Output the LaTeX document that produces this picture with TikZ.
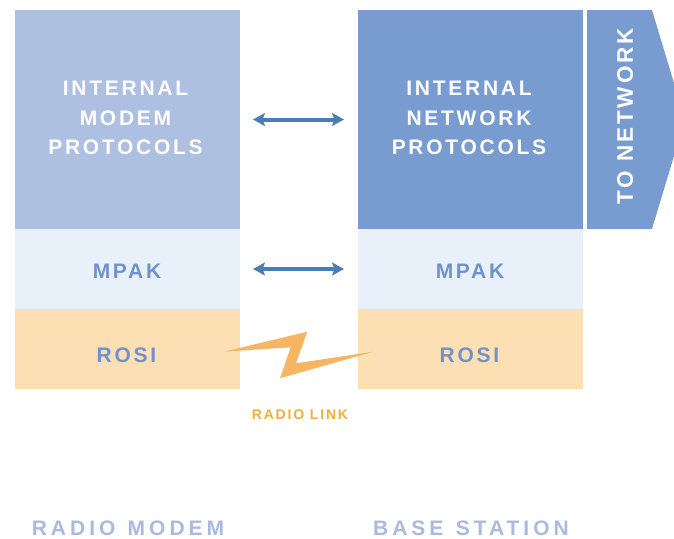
\documentclass[tikz,border=0pt]{standalone}
\usepackage{fontspec}
\newfontfamily\heavy[LetterSpace=13]{Liberation Sans}
\newfontfamily\heavycap[LetterSpace=19,WordSpace=1.25]{Liberation Sans}
\usetikzlibrary{arrows.meta}
\definecolor{lightblue}{HTML}{ADC0E2}
\definecolor{midblue}{HTML}{789CD0}
\definecolor{paleblue}{HTML}{E8F1FA}
\definecolor{paleorange}{HTML}{FCE0B3}
\definecolor{bandtext}{HTML}{7092CC}
\definecolor{arrowblue}{HTML}{4A7DB5}
\definecolor{bolt}{HTML}{F5B563}
\definecolor{linktext}{HTML}{F0AE3C}
\definecolor{captext}{HTML}{AAB9E0}
\tikzset{
  box/.style={inner sep=0pt, outer sep=0pt, minimum width=225pt},
  boxtext/.style={font=\heavy\bfseries\fontsize{21}{29.5}\selectfont, text=white, align=center, inner sep=0pt},
  bandlabel/.style={font=\heavy\bfseries\fontsize{21}{25}\selectfont, text=bandtext, inner sep=0pt},
  caption/.style={font=\heavycap\bfseries\fontsize{21}{25}\selectfont, text=captext, inner sep=0pt, anchor=base},
  biarrow/.style={draw=arrowblue, line width=4pt, {Stealth[length=12pt,width=13pt,inset=2.5pt]}-{Stealth[length=12pt,width=13pt,inset=2.5pt]}}
}
\begin{document}
\begin{tikzpicture}[x=1pt,y=-1pt]
\useasboundingbox (0,0) rectangle (674,538);
% left column
\node[box, fill=lightblue, minimum height=219pt] (imp) at (127.5,119.5) {};
\node[box, fill=paleblue, minimum height=80pt] (mpakL) at (127.5,269) {};
\node[box, fill=paleorange, minimum height=80pt] (rosiL) at (127.5,349) {};
% right column
\node[box, fill=midblue, minimum height=219pt] (inp) at (470.5,119.5) {};
\node[box, fill=paleblue, minimum height=80pt] (mpakR) at (470.5,269) {};
\node[box, fill=paleorange, minimum height=80pt] (rosiR) at (470.5,349) {};
% to network arrow shape
\begin{scope}
\clip (0,0) rectangle (674,538);
\fill[midblue] (587,10) -- (652,10) -- (685,119.5) -- (652,229) -- (587,229) -- cycle;
\end{scope}
\node[font=\heavy\bfseries\fontsize{22.5}{26}\selectfont, text=white, rotate=90, inner sep=0pt] (tonet) at (625,116.5) {TO NETWORK};
% texts
\node[boxtext] (impt) at (125.5,118.3) {INTERNAL\\MODEM\\PROTOCOLS};
\node[boxtext] (inpt) at (469,118.3) {INTERNAL\\NETWORK\\PROTOCOLS};
\node[bandlabel] (mpakLt) at (127,271.2) {MPAK};
\node[bandlabel] (mpakRt) at (470,271.2) {MPAK};
\node[bandlabel] (rosiLt) at (126.5,355.5) {ROSI};
\node[bandlabel] (rosiRt) at (469.5,355.5) {ROSI};
% arrows
\draw[biarrow] ([xshift=13pt]imp.east) -- ([xshift=-14pt]inp.west);
\draw[biarrow] ([xshift=13pt]mpakL.east) -- ([xshift=-14pt]mpakR.west);
% radio link bolt
\fill[bolt] (224,351.7) -- (307.3,331.7) -- (296,363.3) -- (373.3,351.7) -- (280,378.3) -- (290.7,347.3) -- cycle;
\node[font=\heavy\bfseries\fontsize{14}{16}\selectfont, text=linktext, inner sep=0pt, anchor=base] (link) at (300,419.5) {RADIO LINK};
% captions
\node[caption] (modem) at (128,535.5) {RADIO MODEM};
\node[caption] (base) at (471,535.5) {BASE STATION};
\end{tikzpicture}
\end{document}
